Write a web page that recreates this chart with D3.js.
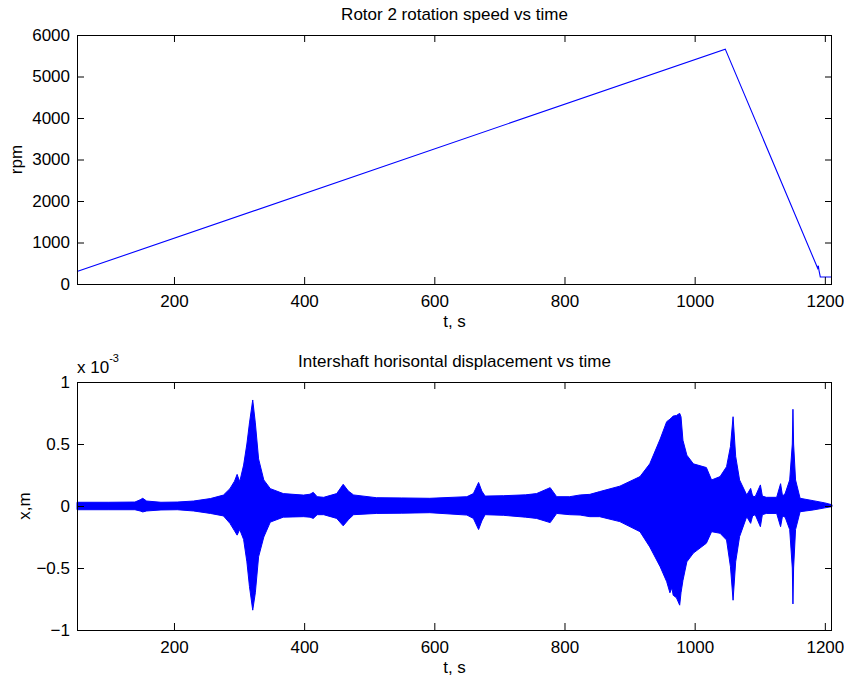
<!DOCTYPE html>
<html>
<head>
<meta charset="utf-8">
<script src="https://cdn.jsdelivr.net/npm/d3@7"></script>
<style>
  html, body { margin: 0; padding: 0; background: #fff; }
  svg { display: block; }
  text { font-family: "Liberation Sans", Arial, Helvetica, sans-serif; fill: #000; }
</style>
</head>
<body>
<svg id="chart" width="844" height="680"></svg>
<script>
// ---------------- data ----------------
const xTicks = [200, 400, 600, 800, 1000, 1200];
const rpmTicks = [0, 1000, 2000, 3000, 4000, 5000, 6000];
const dispTicks = [-1e-3, -0.5e-3, 0, 0.5e-3, 1e-3];

// Rotor 2 rotation speed (t in s, rpm)
const speedTime = [51, 1047, 1189, 1190, 1191, 1193, 1211];
const speedRpm  = [300, 5660, 380, 440, 330, 170, 170];

// Intershaft displacement envelope (t in s, values in 1e-3 m)
const dispTime = [51, 100, 140, 148, 152, 158, 180, 205, 230, 256, 276, 286, 293, 297, 301, 307, 312, 316, 321, 325, 330, 338, 348, 368, 399, 409, 414, 420, 430, 450, 460, 468, 476, 511, 550, 593, 650, 660, 668, 673, 678, 706, 740, 757, 778, 788, 808, 824, 839, 854, 885, 916, 931, 947, 957, 962, 965, 967, 972, 977, 979, 982, 988, 998, 1018, 1026, 1039, 1049, 1055, 1059, 1063, 1069, 1080, 1086, 1089, 1093, 1101, 1104, 1110, 1126, 1132, 1135, 1139, 1146, 1150, 1151, 1152, 1155, 1162, 1182, 1200, 1211];
const dispUpper = [0.03, 0.03, 0.032, 0.05, 0.062, 0.04, 0.03, 0.032, 0.04, 0.06, 0.088, 0.14, 0.2, 0.255, 0.196, 0.33, 0.5, 0.67, 0.855, 0.67, 0.38, 0.21, 0.14, 0.1, 0.088, 0.095, 0.11, 0.075, 0.07, 0.1, 0.175, 0.12, 0.089, 0.067, 0.065, 0.062, 0.075, 0.1, 0.19, 0.12, 0.08, 0.083, 0.09, 0.1, 0.148, 0.075, 0.075, 0.089, 0.094, 0.116, 0.16, 0.237, 0.34, 0.54, 0.68, 0.70, 0.715, 0.725, 0.73, 0.747, 0.72, 0.53, 0.41, 0.34, 0.31, 0.21, 0.237, 0.317, 0.48, 0.72, 0.40, 0.21, 0.089, 0.142, 0.08, 0.075, 0.17, 0.08, 0.07, 0.07, 0.18, 0.08, 0.1, 0.21, 0.5, 0.78, 0.5, 0.21, 0.062, 0.043, 0.025, 0.01];
const dispLower = [-0.03, -0.03, -0.03, -0.04, -0.048, -0.04, -0.032, -0.03, -0.04, -0.06, -0.08, -0.14, -0.2, -0.235, -0.19, -0.27, -0.45, -0.65, -0.84, -0.70, -0.41, -0.25, -0.13, -0.09, -0.086, -0.09, -0.10, -0.07, -0.07, -0.1, -0.16, -0.11, -0.07, -0.06, -0.058, -0.054, -0.073, -0.1, -0.19, -0.12, -0.07, -0.075, -0.09, -0.1, -0.134, -0.06, -0.07, -0.073, -0.086, -0.086, -0.126, -0.207, -0.33, -0.49, -0.61, -0.70, -0.66, -0.72, -0.74, -0.80, -0.70, -0.6, -0.45, -0.38, -0.30, -0.207, -0.22, -0.274, -0.49, -0.76, -0.45, -0.247, -0.086, -0.14, -0.08, -0.07, -0.167, -0.07, -0.06, -0.06, -0.167, -0.08, -0.09, -0.19, -0.5, -0.79, -0.5, -0.19, -0.046, -0.032, -0.015, -0.005];

// ---------------- layout ----------------
const svg = d3.select("#chart");
const L = 77, R = 832;
const panels = [
  { top: 35, bottom: 284 },
  { top: 382, bottom: 630 }
];
const FONT = 17;
const TICK = 7;
const BLUE = "#0000ff";

const x = d3.scaleLinear().domain([51, 1211]).range([L, R]);

function frame(p, y, yTicks, yFmt) {
  const g = svg.append("g");
  const gb = g.append("g").attr("transform", `translate(0,${p.bottom})`)
    .call(d3.axisBottom(x).tickValues(xTicks).tickSizeInner(-TICK).tickSizeOuter(0).tickPadding(11).tickFormat(d3.format("d")));
  const gt = g.append("g").attr("transform", `translate(0,${p.top})`)
    .call(d3.axisTop(x).tickValues(xTicks).tickSizeInner(-TICK).tickSizeOuter(0).tickFormat(""));
  const gl = g.append("g").attr("transform", `translate(${L},0)`)
    .call(d3.axisLeft(y).tickValues(yTicks).tickSizeInner(-TICK).tickSizeOuter(0).tickPadding(7).tickFormat(yFmt));
  const gr = g.append("g").attr("transform", `translate(${R},0)`)
    .call(d3.axisRight(y).tickValues(yTicks).tickSizeInner(-TICK).tickSizeOuter(0).tickFormat(""));
  [gb, gt, gl, gr].forEach(a => {
    a.select(".domain").remove();
    a.selectAll(".tick line").attr("stroke", "#000").attr("stroke-width", 1);
    a.selectAll(".tick text").attr("font-size", FONT).attr("font-family", '"Liberation Sans", Arial, sans-serif').attr("fill", "#000");
  });
  g.append("rect").attr("x", L + 0.5).attr("y", p.top + 0.5)
    .attr("width", R - L - 1).attr("height", p.bottom - p.top)
    .attr("fill", "none").attr("stroke", "#000").attr("stroke-width", 1);
  return g;
}

// ---------------- top panel ----------------
const p1 = panels[0];
const y1 = d3.scaleLinear().domain([0, 6000]).range([p1.bottom, p1.top]);
const speed = speedTime.map((t, i) => ({ t, v: speedRpm[i] }));
svg.append("path").datum(speed)
  .attr("d", d3.line().x(d => x(d.t)).y(d => y1(d.v)))
  .attr("fill", "none").attr("stroke", BLUE).attr("stroke-width", 1.1);
frame(p1, y1, rpmTicks, d3.format("d"));

svg.append("text").attr("x", (L + R) / 2).attr("y", 20).attr("text-anchor", "middle")
  .attr("font-size", FONT).text("Rotor 2 rotation speed vs time");
svg.append("text").attr("x", (L + R) / 2).attr("y", 327).attr("text-anchor", "middle")
  .attr("font-size", FONT).text("t, s");
svg.append("text").attr("transform", `translate(22,${(p1.top + p1.bottom) / 2}) rotate(-90)`)
  .attr("text-anchor", "middle").attr("font-size", FONT).text("rpm");

// ---------------- bottom panel ----------------
const p2 = panels[1];
const y2 = d3.scaleLinear().domain([-1e-3, 1e-3]).range([p2.bottom, p2.top]);
const disp = dispTime.map((t, i) => ({ t, up: dispUpper[i] * 1e-3, lo: dispLower[i] * 1e-3 }));
svg.append("path").datum(disp)
  .attr("d", d3.area().x(d => x(d.t)).y0(d => y2(d.lo)).y1(d => y2(d.up)))
  .attr("fill", BLUE).attr("stroke", BLUE).attr("stroke-width", 1).attr("stroke-linejoin", "round");
frame(p2, y2, dispTicks, d => d3.format("~g")(+(d * 1e3).toFixed(2)));

svg.append("text").attr("x", (L + R) / 2).attr("y", 367).attr("text-anchor", "middle")
  .attr("font-size", FONT).text("Intershaft horisontal displacement vs time");
svg.append("text").attr("x", (L + R) / 2).attr("y", 673).attr("text-anchor", "middle")
  .attr("font-size", FONT).text("t, s");
svg.append("text").attr("transform", `translate(30,${(p2.top + p2.bottom) / 2}) rotate(-90)`)
  .attr("text-anchor", "middle").attr("font-size", FONT).text("x,m");
const mult = svg.append("text").attr("x", L).attr("y", 373).attr("font-size", FONT);
mult.append("tspan").text("x 10");
mult.append("tspan").attr("font-size", 11).attr("dy", -11).text("-3");
</script>
</body>
</html>
